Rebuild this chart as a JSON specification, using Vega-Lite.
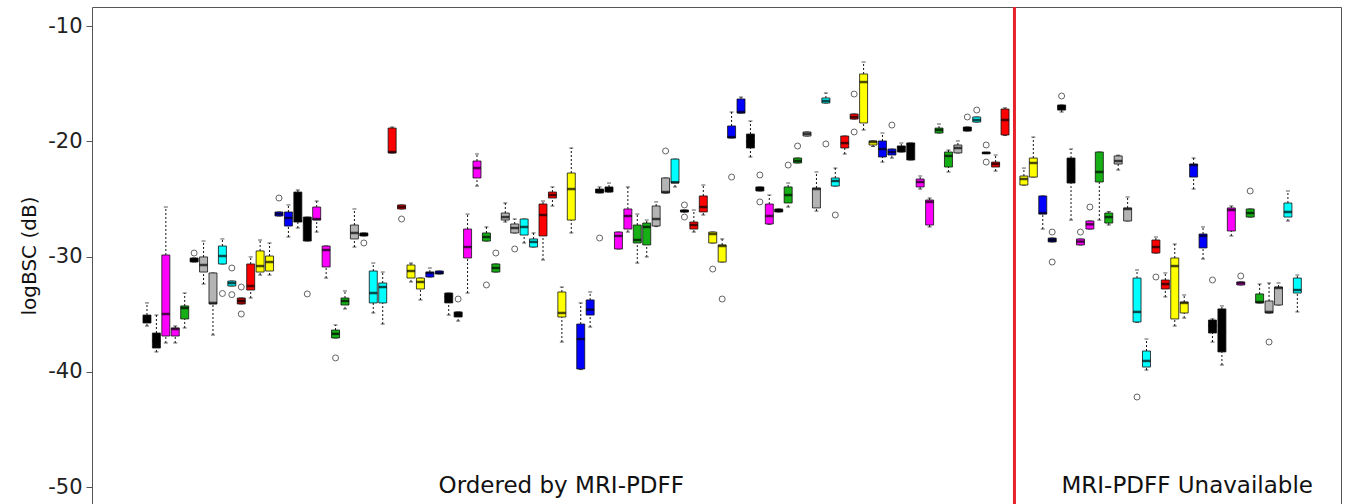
{
  "$schema": "https://vega.github.io/schema/vega-lite/v6.json",
  "width": 1249,
  "height": 497,
  "autosize": {"type": "none"},
  "padding": {"left": 92, "top": 7, "right": 9, "bottom": 0},
  "background": "white",
  "config": {
    "view": {"stroke": "#555555", "strokeWidth": 1},
    "font": "DejaVu Sans"
  },
  "datasets": {
    "boxes": [
      {"p": 1, "g": "black", "lo": -36.02, "q1": -35.76, "md": -35.4, "q3": -35.07, "hi": -34.02},
      {"p": 2, "g": "black", "lo": -38.27, "q1": -37.93, "md": -37.3, "q3": -36.63, "hi": -35.07},
      {"p": 3, "g": "magenta", "lo": -37.49, "q1": -36.89, "md": -34.98, "q3": -29.86, "hi": -25.7},
      {"p": 4, "g": "magenta", "lo": -37.49, "q1": -36.89, "md": -36.28, "q3": -36.19, "hi": -36.02},
      {"p": 5, "g": "green", "lo": -36.19, "q1": -35.41, "md": -34.46, "q3": -34.28, "hi": -33.16},
      {"p": 6, "g": "black", "lo": -30.47, "q1": -30.47, "md": -30.3, "q3": -30.12, "hi": -30.12},
      {"p": 7, "g": "gray", "lo": -32.38, "q1": -31.34, "md": -30.73, "q3": -30.03, "hi": -28.65},
      {"p": 8, "g": "gray", "lo": -36.8, "q1": -34.11, "md": -34.02, "q3": -31.42, "hi": -31.42},
      {"p": 9, "g": "cyan", "lo": -30.64, "q1": -30.64, "md": -29.95, "q3": -29.08, "hi": -28.47},
      {"p": 10, "g": "cyan", "lo": -32.55, "q1": -32.55, "md": -32.3, "q3": -32.12, "hi": -32.12},
      {"p": 11, "g": "darkred", "lo": -34.11, "q1": -34.11, "md": -33.85, "q3": -33.59, "hi": -33.59},
      {"p": 12, "g": "red", "lo": -33.59, "q1": -32.9, "md": -32.55, "q3": -30.64, "hi": -30.03},
      {"p": 13, "g": "yellow", "lo": -31.6, "q1": -31.34, "md": -30.82, "q3": -29.51, "hi": -28.56},
      {"p": 14, "g": "yellow", "lo": -31.6, "q1": -31.25, "md": -30.47, "q3": -29.95, "hi": -28.82},
      {"p": 15, "g": "blue", "lo": -26.48, "q1": -26.48, "md": -26.3, "q3": -26.13, "hi": -26.13},
      {"p": 16, "g": "blue", "lo": -28.3, "q1": -27.35, "md": -26.65, "q3": -26.13, "hi": -25.52},
      {"p": 17, "g": "black", "lo": -27.52, "q1": -27.0, "md": -26.9, "q3": -24.4, "hi": -24.22},
      {"p": 18, "g": "black", "lo": -28.65, "q1": -28.65, "md": -27.0, "q3": -26.57, "hi": -26.57},
      {"p": 19, "g": "magenta", "lo": -27.87, "q1": -26.83, "md": -26.74, "q3": -25.7, "hi": -25.18},
      {"p": 20, "g": "magenta", "lo": -31.86, "q1": -30.9, "md": -29.43, "q3": -29.08, "hi": -29.08},
      {"p": 21, "g": "green", "lo": -37.06, "q1": -37.06, "md": -36.7, "q3": -36.37, "hi": -35.93},
      {"p": 22, "g": "green", "lo": -34.54, "q1": -34.2, "md": -33.85, "q3": -33.59, "hi": -32.98},
      {"p": 23, "g": "gray", "lo": -29.17, "q1": -28.47, "md": -27.95, "q3": -27.26, "hi": -25.87},
      {"p": 24, "g": "black", "lo": -28.21, "q1": -28.21, "md": -28.08, "q3": -27.95, "hi": -27.95},
      {"p": 25, "g": "cyan", "lo": -34.89, "q1": -34.02, "md": -33.16, "q3": -31.25, "hi": -30.56},
      {"p": 26, "g": "cyan", "lo": -35.85, "q1": -34.02, "md": -32.64, "q3": -32.29, "hi": -31.34},
      {"p": 27, "g": "red", "lo": -21.01, "q1": -21.01, "md": -20.93, "q3": -18.85, "hi": -18.76},
      {"p": 28, "g": "red", "lo": -25.87, "q1": -25.87, "md": -25.7, "q3": -25.52, "hi": -25.52},
      {"p": 29, "g": "yellow", "lo": -32.2, "q1": -31.86, "md": -31.25, "q3": -30.73, "hi": -30.56},
      {"p": 30, "g": "yellow", "lo": -33.76, "q1": -32.81, "md": -32.2, "q3": -31.86, "hi": -31.86},
      {"p": 31, "g": "blue", "lo": -31.77, "q1": -31.77, "md": -31.42, "q3": -31.34, "hi": -30.99},
      {"p": 32, "g": "blue", "lo": -31.51, "q1": -31.51, "md": -31.4, "q3": -31.25, "hi": -31.25},
      {"p": 33, "g": "black", "lo": -35.07, "q1": -34.02, "md": -33.5, "q3": -33.16, "hi": -33.16},
      {"p": 34, "g": "black", "lo": -35.59, "q1": -35.24, "md": -35.0, "q3": -34.8, "hi": -34.8},
      {"p": 35, "g": "magenta", "lo": -33.16, "q1": -30.12, "md": -29.17, "q3": -27.61, "hi": -26.31},
      {"p": 36, "g": "magenta", "lo": -23.88, "q1": -23.18, "md": -22.32, "q3": -21.71, "hi": -21.1},
      {"p": 37, "g": "green", "lo": -28.65, "q1": -28.65, "md": -28.3, "q3": -27.95, "hi": -27.43},
      {"p": 38, "g": "green", "lo": -31.34, "q1": -31.34, "md": -30.99, "q3": -30.64, "hi": -30.64},
      {"p": 39, "g": "gray", "lo": -27.0, "q1": -26.83, "md": -26.57, "q3": -26.22, "hi": -25.35},
      {"p": 40, "g": "gray", "lo": -27.95, "q1": -27.95, "md": -27.52, "q3": -27.17, "hi": -26.74},
      {"p": 41, "g": "cyan", "lo": -28.82, "q1": -28.13, "md": -27.43, "q3": -26.74, "hi": -26.74},
      {"p": 42, "g": "cyan", "lo": -29.17, "q1": -29.17, "md": -28.73, "q3": -28.47, "hi": -27.95},
      {"p": 43, "g": "red", "lo": -30.29, "q1": -28.21, "md": -26.39, "q3": -25.44, "hi": -25.18},
      {"p": 44, "g": "red", "lo": -25.61, "q1": -24.92, "md": -24.66, "q3": -24.4, "hi": -23.96},
      {"p": 45, "g": "yellow", "lo": -37.41, "q1": -35.24, "md": -34.89, "q3": -33.07, "hi": -32.64},
      {"p": 46, "g": "yellow", "lo": -27.95, "q1": -26.83, "md": -24.14, "q3": -22.75, "hi": -20.58},
      {"p": 47, "g": "blue", "lo": -39.8, "q1": -39.75, "md": -37.15, "q3": -35.85, "hi": -34.02},
      {"p": 48, "g": "blue", "lo": -36.11, "q1": -35.07, "md": -34.6, "q3": -33.76, "hi": -33.07},
      {"p": 49, "g": "black", "lo": -24.48, "q1": -24.48, "md": -24.3, "q3": -24.14, "hi": -23.96},
      {"p": 50, "g": "black", "lo": -24.4, "q1": -24.4, "md": -24.2, "q3": -23.96, "hi": -23.62},
      {"p": 51, "g": "magenta", "lo": -29.34, "q1": -29.34, "md": -28.21, "q3": -27.87, "hi": -27.87},
      {"p": 52, "g": "magenta", "lo": -27.87, "q1": -27.61, "md": -26.48, "q3": -25.87, "hi": -23.96},
      {"p": 53, "g": "green", "lo": -30.56, "q1": -28.82, "md": -28.56, "q3": -27.26, "hi": -26.31},
      {"p": 54, "g": "green", "lo": -30.03, "q1": -28.99, "md": -27.43, "q3": -27.09, "hi": -26.83},
      {"p": 55, "g": "gray", "lo": -27.4, "q1": -27.35, "md": -26.74, "q3": -25.61, "hi": -25.26},
      {"p": 56, "g": "gray", "lo": -24.48, "q1": -24.48, "md": -24.4, "q3": -23.18, "hi": -23.18},
      {"p": 57, "g": "cyan", "lo": -23.96, "q1": -23.62, "md": -23.55, "q3": -21.54, "hi": -21.54},
      {"p": 58, "g": "black", "lo": -26.13, "q1": -26.13, "md": -26.05, "q3": -25.96, "hi": -25.96},
      {"p": 59, "g": "red", "lo": -27.87, "q1": -27.61, "md": -27.26, "q3": -27.0, "hi": -25.96},
      {"p": 60, "g": "red", "lo": -26.39, "q1": -26.13, "md": -25.7, "q3": -24.74, "hi": -23.79},
      {"p": 61, "g": "yellow", "lo": -28.82, "q1": -28.82, "md": -28.04, "q3": -27.87, "hi": -27.87},
      {"p": 62, "g": "yellow", "lo": -30.47, "q1": -30.47, "md": -29.08, "q3": -28.99, "hi": -28.47},
      {"p": 63, "g": "blue", "lo": -19.71, "q1": -19.71, "md": -19.63, "q3": -18.67, "hi": -17.46},
      {"p": 64, "g": "blue", "lo": -17.55, "q1": -17.55, "md": -17.46, "q3": -16.33, "hi": -16.16},
      {"p": 65, "g": "black", "lo": -21.36, "q1": -20.58, "md": -20.0, "q3": -19.37, "hi": -18.24},
      {"p": 66, "g": "black", "lo": -24.31, "q1": -24.31, "md": -24.1, "q3": -23.96, "hi": -23.96},
      {"p": 67, "g": "magenta", "lo": -27.2, "q1": -27.17, "md": -26.48, "q3": -25.44, "hi": -24.66},
      {"p": 68, "g": "black", "lo": -26.13, "q1": -26.13, "md": -26.0, "q3": -25.87, "hi": -25.87},
      {"p": 69, "g": "green", "lo": -25.7, "q1": -25.35, "md": -24.66, "q3": -23.96, "hi": -23.62},
      {"p": 70, "g": "green", "lo": -21.88, "q1": -21.88, "md": -21.7, "q3": -21.45, "hi": -21.45},
      {"p": 71, "g": "gray", "lo": -19.54, "q1": -19.54, "md": -19.35, "q3": -19.19, "hi": -19.19},
      {"p": 72, "g": "gray", "lo": -26.05, "q1": -25.78, "md": -24.14, "q3": -24.05, "hi": -22.66},
      {"p": 73, "g": "cyan", "lo": -16.68, "q1": -16.68, "md": -16.5, "q3": -16.24, "hi": -15.81},
      {"p": 74, "g": "cyan", "lo": -23.88, "q1": -23.88, "md": -23.44, "q3": -23.18, "hi": -22.32},
      {"p": 75, "g": "red", "lo": -21.1, "q1": -20.58, "md": -20.15, "q3": -19.54, "hi": -19.54},
      {"p": 76, "g": "red", "lo": -18.07, "q1": -18.07, "md": -17.9, "q3": -17.63, "hi": -17.63},
      {"p": 77, "g": "yellow", "lo": -19.02, "q1": -18.41, "md": -14.86, "q3": -14.16, "hi": -13.12},
      {"p": 78, "g": "yellow", "lo": -20.45, "q1": -20.32, "md": -20.06, "q3": -19.97, "hi": -19.97},
      {"p": 79, "g": "blue", "lo": -21.8, "q1": -21.36, "md": -20.67, "q3": -19.97, "hi": -19.28},
      {"p": 80, "g": "blue", "lo": -21.45, "q1": -21.19, "md": -20.93, "q3": -20.67, "hi": -20.67},
      {"p": 81, "g": "black", "lo": -20.93, "q1": -20.93, "md": -20.5, "q3": -20.41, "hi": -20.15},
      {"p": 82, "g": "black", "lo": -21.62, "q1": -21.62, "md": -20.23, "q3": -20.15, "hi": -20.15},
      {"p": 83, "g": "magenta", "lo": -24.14, "q1": -23.96, "md": -23.53, "q3": -23.27, "hi": -23.01},
      {"p": 84, "g": "magenta", "lo": -27.43, "q1": -27.26, "md": -25.26, "q3": -25.09, "hi": -24.92},
      {"p": 85, "g": "green", "lo": -19.28, "q1": -19.28, "md": -19.02, "q3": -18.85, "hi": -18.5},
      {"p": 86, "g": "green", "lo": -22.66, "q1": -22.23, "md": -21.27, "q3": -20.93, "hi": -20.76},
      {"p": 87, "g": "gray", "lo": -21.01, "q1": -21.01, "md": -20.58, "q3": -20.32, "hi": -19.97},
      {"p": 88, "g": "black", "lo": -19.11, "q1": -19.11, "md": -18.9, "q3": -18.76, "hi": -18.76},
      {"p": 89, "g": "cyan", "lo": -18.33, "q1": -18.33, "md": -18.15, "q3": -17.89, "hi": -17.89},
      {"p": 90, "g": "black", "lo": -21.07, "q1": -21.07, "md": -21.01, "q3": -20.95, "hi": -20.95},
      {"p": 91, "g": "red", "lo": -22.58, "q1": -22.23, "md": -21.97, "q3": -21.8, "hi": -21.19},
      {"p": 92, "g": "red", "lo": -19.5, "q1": -19.45, "md": -18.15, "q3": -17.2, "hi": -17.1},
      {"p": 94, "g": "yellow", "lo": -23.8, "q1": -23.79, "md": -23.27, "q3": -23.01, "hi": -22.32},
      {"p": 95, "g": "yellow", "lo": -23.1, "q1": -23.1, "md": -21.88, "q3": -21.45, "hi": -19.63},
      {"p": 96, "g": "blue", "lo": -27.61, "q1": -26.31, "md": -26.22, "q3": -24.74, "hi": -24.74},
      {"p": 97, "g": "navy", "lo": -28.73, "q1": -28.73, "md": -28.56, "q3": -28.39, "hi": -28.39},
      {"p": 98, "g": "black", "lo": -17.46, "q1": -17.29, "md": -17.0, "q3": -16.85, "hi": -16.85},
      {"p": 99, "g": "black", "lo": -26.83, "q1": -23.62, "md": -22.5, "q3": -21.45, "hi": -20.67},
      {"p": 100, "g": "magenta", "lo": -28.99, "q1": -28.99, "md": -28.7, "q3": -28.47, "hi": -28.47},
      {"p": 101, "g": "magenta", "lo": -27.61, "q1": -27.61, "md": -27.2, "q3": -26.91, "hi": -26.91},
      {"p": 102, "g": "green", "lo": -26.83, "q1": -23.53, "md": -22.66, "q3": -20.93, "hi": -20.93},
      {"p": 103, "g": "green", "lo": -27.26, "q1": -27.09, "md": -26.57, "q3": -26.22, "hi": -26.1},
      {"p": 104, "g": "gray", "lo": -22.49, "q1": -21.97, "md": -21.71, "q3": -21.27, "hi": -21.2},
      {"p": 105, "g": "gray", "lo": -26.91, "q1": -26.91, "md": -25.87, "q3": -25.78, "hi": -24.83},
      {"p": 106, "g": "cyan", "lo": -35.7, "q1": -35.67, "md": -34.8, "q3": -31.86, "hi": -31.16},
      {"p": 107, "g": "cyan", "lo": -39.84, "q1": -39.58, "md": -39.05, "q3": -38.19, "hi": -37.15},
      {"p": 108, "g": "red", "lo": -29.7, "q1": -29.69, "md": -29.17, "q3": -28.56, "hi": -28.3},
      {"p": 109, "g": "red", "lo": -33.5, "q1": -32.81, "md": -32.38, "q3": -32.03, "hi": -31.42},
      {"p": 110, "g": "yellow", "lo": -36.02, "q1": -35.41, "md": -30.82, "q3": -30.12, "hi": -28.91},
      {"p": 111, "g": "yellow", "lo": -35.33, "q1": -34.89, "md": -34.02, "q3": -33.94, "hi": -33.33},
      {"p": 112, "g": "blue", "lo": -24.14, "q1": -23.1, "md": -22.06, "q3": -21.97, "hi": -21.45},
      {"p": 113, "g": "blue", "lo": -30.21, "q1": -29.25, "md": -28.21, "q3": -28.04, "hi": -27.43},
      {"p": 114, "g": "black", "lo": -37.41, "q1": -36.63, "md": -36.0, "q3": -35.5, "hi": -35.4},
      {"p": 115, "g": "black", "lo": -39.4, "q1": -38.27, "md": -36.5, "q3": -34.54, "hi": -34.28},
      {"p": 116, "g": "magenta", "lo": -28.21, "q1": -27.78, "md": -25.96, "q3": -25.78, "hi": -25.61},
      {"p": 117, "g": "magenta", "lo": -32.46, "q1": -32.46, "md": -32.3, "q3": -32.2, "hi": -32.2},
      {"p": 118, "g": "green", "lo": -26.57, "q1": -26.57, "md": -26.22, "q3": -25.87, "hi": -25.87},
      {"p": 119, "g": "green", "lo": -34.02, "q1": -34.02, "md": -33.94, "q3": -33.24, "hi": -32.38},
      {"p": 120, "g": "gray", "lo": -34.89, "q1": -34.89, "md": -34.8, "q3": -33.85, "hi": -32.29},
      {"p": 121, "g": "gray", "lo": -34.2, "q1": -34.2, "md": -32.72, "q3": -32.64, "hi": -32.29},
      {"p": 122, "g": "cyan", "lo": -26.91, "q1": -26.57, "md": -26.13, "q3": -25.35, "hi": -24.31},
      {"p": 123, "g": "cyan", "lo": -34.8, "q1": -33.16, "md": -32.9, "q3": -31.86, "hi": -31.6}
    ],
    "outliers": [
      {"p": 6, "v": -29.69}, {"p": 9, "v": -33.2}, {"p": 10, "v": -30.99}, {"p": 10, "v": -33.3},
      {"p": 11, "v": -32.64}, {"p": 11, "v": -34.98}, {"p": 15, "v": -24.92}, {"p": 18, "v": -33.24},
      {"p": 21, "v": -38.79}, {"p": 24, "v": -28.82}, {"p": 28, "v": -26.74}, {"p": 34, "v": -33.68},
      {"p": 37, "v": -32.46}, {"p": 38, "v": -29.69}, {"p": 40, "v": -29.34}, {"p": 49, "v": -28.39},
      {"p": 56, "v": -20.84}, {"p": 58, "v": -25.52}, {"p": 58, "v": -26.57}, {"p": 61, "v": -31.08},
      {"p": 62, "v": -33.68}, {"p": 63, "v": -23.1}, {"p": 66, "v": -22.92}, {"p": 66, "v": -25.26},
      {"p": 69, "v": -22.06}, {"p": 70, "v": -20.41}, {"p": 73, "v": -20.23}, {"p": 74, "v": -26.39},
      {"p": 76, "v": -15.9}, {"p": 76, "v": -19.19}, {"p": 80, "v": -18.59}, {"p": 88, "v": -17.89},
      {"p": 89, "v": -17.29}, {"p": 90, "v": -20.32}, {"p": 90, "v": -21.8}, {"p": 97, "v": -27.87},
      {"p": 97, "v": -30.47}, {"p": 98, "v": -16.07}, {"p": 100, "v": -27.87}, {"p": 101, "v": -25.7},
      {"p": 106, "v": -42.18}, {"p": 108, "v": -31.77}, {"p": 114, "v": -32.03}, {"p": 117, "v": -31.68},
      {"p": 118, "v": -24.31}, {"p": 120, "v": -37.41}
    ],
    "divider": [{"p": 93}],
    "regions": [
      {"center": 44.94, "name": "Ordered by MRI-PDFF"},
      {"center": 111.32, "name": "MRI-PDFF Unavailable"}
    ]
  },
  "layer": [
    {
      "data": {"name": "divider"},
      "mark": {"type": "rule", "color": "#e8202a", "strokeWidth": 3},
      "encoding": {
        "x": {"field": "p", "type": "quantitative", "scale": {"domain": [-4.3, 127.1], "nice": false, "zero": false}, "axis": null}
      }
    },
    {
      "data": {"name": "boxes"},
      "mark": {"type": "rule", "color": "#111111", "strokeWidth": 1, "strokeDash": [2, 2]},
      "encoding": {
        "x": {"field": "p", "type": "quantitative", "scale": {"domain": [-4.3, 127.1], "nice": false, "zero": false}, "axis": null},
        "y": {"field": "lo", "type": "quantitative", "scale": {"domain": [-51.46, -8.35], "nice": false, "zero": false},
              "axis": {"values": [-50, -40, -30, -20, -10], "labelExpr": "'' + datum.value", "grid": false, "domain": false,
                       "tickColor": "#555555", "tickSize": 6, "labelFontSize": 21, "labelColor": "#222222", "labelPadding": 4,
                       "labelOverlap": false, "labelFlush": false, "labelBound": false,
                       "title": "logBSC (dB)", "titleFontSize": 20, "titleFontWeight": "normal", "titleColor": "#111111", "titlePadding": 8}},
        "y2": {"field": "q1"}
      }
    },
    {
      "data": {"name": "boxes"},
      "mark": {"type": "rule", "color": "#111111", "strokeWidth": 1, "strokeDash": [2, 2]},
      "encoding": {
        "x": {"field": "p", "type": "quantitative"},
        "y": {"field": "q3", "type": "quantitative"},
        "y2": {"field": "hi"}
      }
    },
    {
      "data": {"name": "boxes"},
      "mark": {"type": "tick", "orient": "horizontal", "color": "#111111", "size": 4, "thickness": 1},
      "encoding": {
        "x": {"field": "p", "type": "quantitative"},
        "y": {"field": "lo", "type": "quantitative"}
      }
    },
    {
      "data": {"name": "boxes"},
      "mark": {"type": "tick", "orient": "horizontal", "color": "#111111", "size": 4, "thickness": 1},
      "encoding": {
        "x": {"field": "p", "type": "quantitative"},
        "y": {"field": "hi", "type": "quantitative"}
      }
    },
    {
      "data": {"name": "boxes"},
      "mark": {"type": "bar", "size": 8, "stroke": "#111111", "strokeWidth": 0.8},
      "encoding": {
        "x": {"field": "p", "type": "quantitative"},
        "y": {"field": "q1", "type": "quantitative"},
        "y2": {"field": "q3"},
        "fill": {"field": "g", "type": "nominal", "legend": null,
                 "scale": {"domain": ["black", "magenta", "green", "gray", "cyan", "red", "yellow", "blue", "darkred", "navy"],
                           "range": ["#000000", "#ff00ff", "#16b016", "#b4b4b4", "#00ffff", "#ff0000", "#ffff00", "#0000ff", "#b00000", "#000080"]}}
      }
    },
    {
      "data": {"name": "boxes"},
      "mark": {"type": "tick", "orient": "horizontal", "color": "#000000", "size": 8, "thickness": 2.5},
      "encoding": {
        "x": {"field": "p", "type": "quantitative"},
        "y": {"field": "md", "type": "quantitative"}
      }
    },
    {
      "data": {"name": "outliers"},
      "mark": {"type": "point", "filled": false, "shape": "circle", "size": 36, "stroke": "#222222", "strokeWidth": 1},
      "encoding": {
        "x": {"field": "p", "type": "quantitative"},
        "y": {"field": "v", "type": "quantitative"}
      }
    },
    {
      "data": {"name": "regions"},
      "mark": {"type": "text", "fontSize": 23, "color": "#111111", "align": "center", "baseline": "alphabetic"},
      "encoding": {
        "x": {"field": "center", "type": "quantitative"},
        "y": {"datum": -50.5, "type": "quantitative"},
        "text": {"field": "name"}
      }
    }
  ]
}
